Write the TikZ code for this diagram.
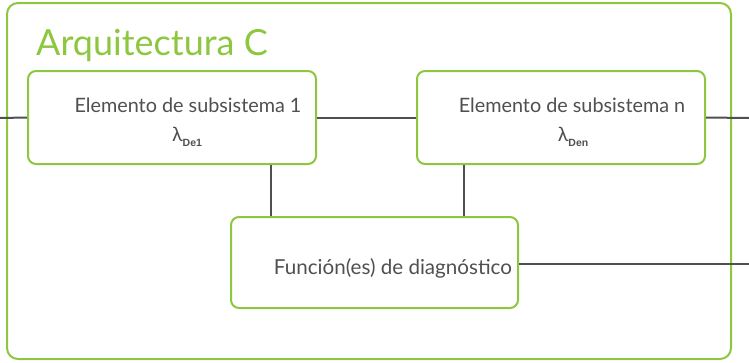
\documentclass[tikz,border=0pt]{standalone}
\usepackage{fontspec}
\setmainfont{Lato}
\newfontfamily\subfont{Liberation Sans}
\usetikzlibrary{calc}
\definecolor{lgreen}{RGB}{141,198,63}
\definecolor{dgray}{RGB}{80,80,80}
\definecolor{tgray}{RGB}{80,80,80}
\newcommand{\lsub}[1]{\raisebox{-5pt}{\subfont\bfseries\fontsize{10.5}{12}\selectfont #1}}
\begin{document}
\begin{tikzpicture}[x=1pt,y=-1pt,
  box/.style={draw=lgreen,line width=2pt,rounded corners=8pt,fill=white,inner sep=0pt},
  conn/.style={draw=dgray,line width=2pt},
  lbl/.style={text=tgray,inner sep=0pt,font=\fontsize{19.8}{24}\selectfont}]
\useasboundingbox (0,0) rectangle (749,362);
\draw[draw=lgreen,line width=2pt,rounded corners=11pt] (7,3) rectangle (731,359);
\node[anchor=base west,text=lgreen,inner sep=0pt,font=\fontsize{36}{40}\selectfont] (title) at (36,55) {Arquitectura C};
\node[box,minimum width=288pt,minimum height=93pt] (b1) at (172,117.5) {};
\node[box,minimum width=288pt,minimum height=93pt] (bn) at (561,117.5) {};
\node[box,minimum width=287pt,minimum height=91pt] (dg) at (374.5,262.5) {};
\node[lbl] (t1) at (188,105.5) {Elemento de subsistema 1};
\node[lbl] (l1) at (187,137) {λ\lsub{De1}};
\node[lbl] (tn) at (572,105.5) {Elemento de subsistema n};
\node[lbl] (ln) at (573,137) {λ\lsub{Den}};
\node[lbl,font=\fontsize{20.6}{24}\selectfont] (td) at (393,268) {Función(es) de diagnóstico};
\coordinate (lin) at (0,118);
\coordinate (rout) at (749,118);
\coordinate (dout) at (749,264);
\coordinate (v1) at (271,0);
\coordinate (v2) at (464,0);
\draw[conn] (lin) -- (b1.west);
\draw[conn] (b1.east) -- (bn.west);
\draw[conn] (bn.east) -- (rout);
\draw[conn] (b1.south -| v1) -- (dg.north -| v1);
\draw[conn] (bn.south -| v2) -- (dg.north -| v2);
\draw[conn] (dg.east |- dout) -- (dout);
\end{tikzpicture}
\end{document}
